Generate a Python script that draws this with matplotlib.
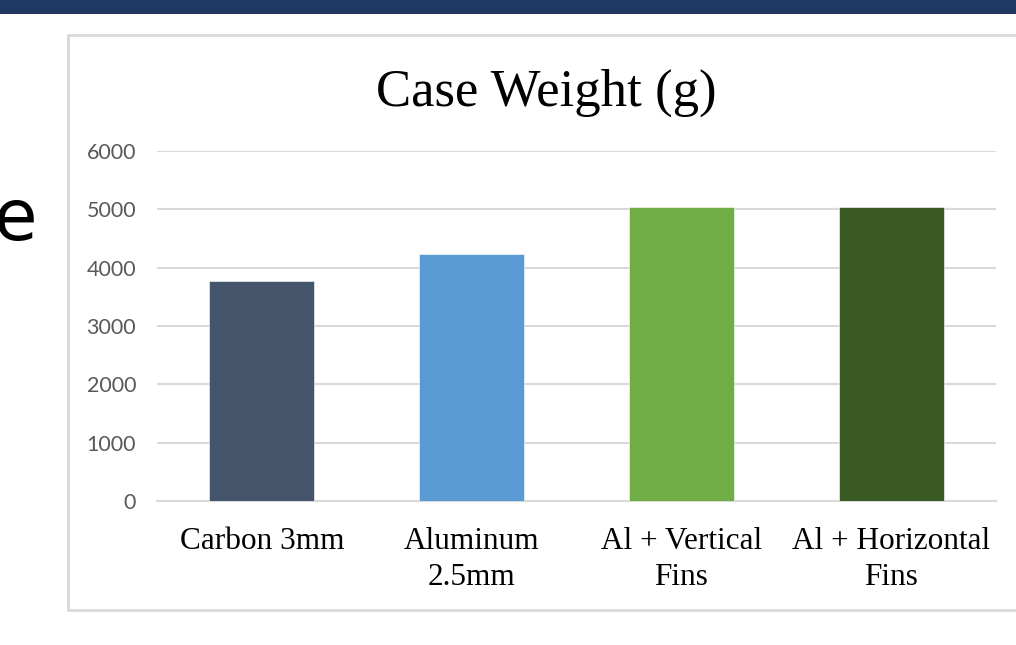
import matplotlib
matplotlib.use('Agg')
from matplotlib import pyplot as plt
from matplotlib.patches import Rectangle

# chart data
categories = ['Carbon 3mm', 'Aluminum\n2.5mm', 'Al + Vertical\nFins', 'Al + Horizontal\nFins']
weights = [3770, 4230, 5040, 5040]
bar_colors = ['#44546A', '#5B9BD5', '#70AD47', '#3A5A24']
y_ticks = [0, 1000, 2000, 3000, 4000, 5000, 6000]
title = 'Case Weight (g)'

W, H = 1016, 645
fig = plt.figure(figsize=(W / 100, H / 100), dpi=100)
fig.patch.set_facecolor('white')

# slide header strip
fig.patches.append(Rectangle((0, 1 - 14 / H), 1, 14 / H, transform=fig.transFigure,
                             facecolor='#1F3864', edgecolor='none', zorder=-2))
# chart frame
fig.patches.append(Rectangle((68 / W, 1 - 610 / H), 1.0, (610 - 35) / H, transform=fig.transFigure,
                             facecolor='white', edgecolor='#D9D9D9', linewidth=2, zorder=-2))
# leftover letter from slide text
fig.text(37 / W, 1 - 240 / H, 'e', family='DejaVu Sans', fontsize=51,
         ha='right', va='baseline', color='black')

ax = fig.add_axes([157 / W, 1 - 501 / H, (996 - 157) / W, 350 / H])
ax.set_zorder(1)
ax.set_facecolor('none')
x = range(len(categories))
ax.bar(x, weights, width=0.5, color=bar_colors, edgecolor='white', linewidth=0.4, zorder=3)
ax.set_xlim(-0.5, len(categories) - 0.5)
ax.set_ylim(0, 6000)
ax.set_yticks(y_ticks)
ax.set_yticklabels([str(v) for v in y_ticks], family='Lato', fontsize=15.5, color='#595959')
ax.set_xticks(list(x))
ax.set_xticklabels(categories, family='Liberation Serif', fontsize=22.5, color='black',
                   linespacing=1.32)
ax.tick_params(axis='y', length=0, pad=15)
ax.tick_params(axis='x', length=0, pad=19)
ax.grid(axis='y', color='#D9D9D9', linewidth=1.5, zorder=0)
ax.set_axisbelow(True)
for side in ['top', 'right', 'left']:
    ax.spines[side].set_visible(False)
ax.spines['bottom'].set_color('#D9D9D9')
ax.spines['bottom'].set_linewidth(1.5)

fig.text(546 / W, 1 - 93 / H, title, family='Liberation Serif', fontsize=38,
         ha='center', va='center', color='black')

fig.savefig('out.png', dpi=100)
